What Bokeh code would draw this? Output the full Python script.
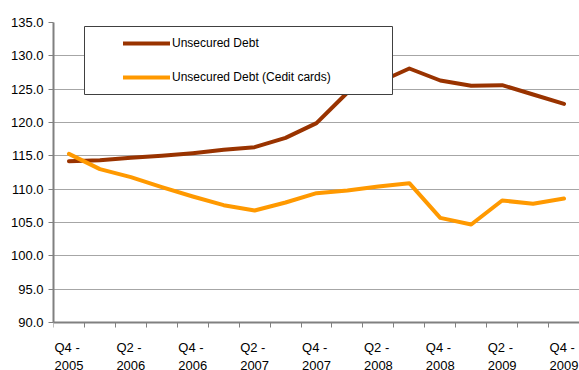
from bokeh.plotting import figure
from bokeh.models import (Legend, LegendItem, FixedTicker, PrintfTickFormatter, Range1d,
                          BoxAnnotation, LabelSet, ColumnDataSource)
from bokeh.core.properties import value
from bokeh.embed import file_html
from bokeh.resources import INLINE

quarters = ["Q4 - 2005", "Q1 - 2006", "Q2 - 2006", "Q3 - 2006", "Q4 - 2006",
            "Q1 - 2007", "Q2 - 2007", "Q3 - 2007", "Q4 - 2007", "Q1 - 2008",
            "Q2 - 2008", "Q3 - 2008", "Q4 - 2008", "Q1 - 2009", "Q2 - 2009",
            "Q3 - 2009", "Q4 - 2009"]
unsecured_debt = [114.2, 114.35, 114.7, 115.0, 115.4, 115.9, 116.3, 117.7, 119.9,
                  124.5, 126.0, 128.1, 126.3, 125.5, 125.6, 124.2, 122.8]
credit_cards = [115.3, 113.0, 111.8, 110.3, 108.9, 107.6, 106.8, 108.0, 109.4,
                109.8, 110.4, 110.9, 105.7, 104.7, 108.3, 107.8, 108.6]
y_ticks = [90, 95, 100, 105, 110, 115, 120, 125, 130, 135]
series_names = ["Unsecured Debt", "Unsecured Debt (Cedit cards)"]
series_colors = ["#993300", "#FF9900"]

FONT = "Liberation Sans"
n = len(quarters)
xs = [i + 0.5 for i in range(n)]

# layout: frame spans the full lower part so the quarter labels (drawn inside the frame,
# below the value 90) are not clipped; the plotted area 90..135 spans 300 px.
W, H, TOP = 579, 370, 22
PLOT_PX = 300.0
FB = H - TOP                      # frame height in px (bottom border 0)
px_per_unit = PLOT_PX / (y_ticks[-1] - y_ticks[0])
y_start = y_ticks[-1] - FB / px_per_unit

p = figure(width=W, height=H, output_backend="svg", toolbar_location=None,
           x_range=Range1d(0, n), y_range=Range1d(y_start, y_ticks[-1]),
           min_border_left=53, min_border_right=0, min_border_top=TOP, min_border_bottom=0)
p.outline_line_color = None
p.background_fill_color = "white"
p.border_fill_color = "white"

# grid
p.xgrid.grid_line_color = None
p.ygrid.ticker = FixedTicker(ticks=y_ticks)
p.ygrid.grid_line_color = "#a6a6a6"
p.ygrid.grid_line_width = 1

# y axis
p.yaxis.ticker = FixedTicker(ticks=y_ticks)
p.yaxis.bounds = (y_ticks[0], y_ticks[-1])
p.yaxis.formatter = PrintfTickFormatter(format="%.1f")
p.yaxis.axis_line_color = "#808080"
p.yaxis.axis_line_width = 2
p.yaxis.major_tick_line_color = "#808080"
p.yaxis.major_tick_out = 5
p.yaxis.major_tick_in = 0
p.yaxis.minor_tick_line_color = None
p.yaxis.major_label_text_font = FONT
p.yaxis.major_label_text_font_size = "13px"
p.yaxis.major_label_text_color = "black"
p.yaxis.major_label_standoff = 5

# x axis drawn at value 90, ticks at the category boundaries
p.xaxis.fixed_location = y_ticks[0]
p.xaxis.ticker = FixedTicker(ticks=[], minor_ticks=list(range(n + 1)))
p.xaxis.axis_line_color = "#808080"
p.xaxis.axis_line_width = 2
p.xaxis.major_tick_line_color = None
p.xaxis.major_tick_out = 0
p.xaxis.major_tick_in = 0
p.xaxis.major_label_standoff = 0
p.xaxis.minor_tick_line_color = "#808080"
p.xaxis.minor_tick_out = 5
p.xaxis.minor_tick_in = 0
p.xaxis.minor_tick_line_width = 1

# quarter labels, every second quarter
lab_idx = list(range(0, n, 2))
lab_src = ColumnDataSource(dict(x=[xs[i] for i in lab_idx],
                                y=[y_ticks[0]] * len(lab_idx),
                                text=[quarters[i].replace(" - ", " -\n") for i in lab_idx]))
labels = LabelSet(x="x", y="y", text="text", source=lab_src, y_offset=-17,
                  text_align="center", text_baseline="top",
                  text_font=value(FONT), text_font_size="13px", text_color="black",
                  text_line_height=1.2)
p.add_layout(labels)

# lines
r1 = p.line(xs, unsecured_debt, line_width=4, line_color=series_colors[0],
            line_join="round", line_cap="round")
r2 = p.line(xs, credit_cards, line_width=4, line_color=series_colors[1],
            line_join="round", line_cap="round")

# legend frame (screen units relative to frame bottom-left)
FBOT = TOP + FB
box = BoxAnnotation(left=31, right=339, bottom=FBOT - 94, top=FBOT - 26,
                    left_units="screen", right_units="screen",
                    bottom_units="screen", top_units="screen",
                    fill_color="white", fill_alpha=1.0,
                    line_color="#404040", line_width=1, line_alpha=1.0)
p.add_layout(box)

legend = Legend(items=[LegendItem(label=series_names[0], renderers=[r1]),
                       LegendItem(label=series_names[1], renderers=[r2])],
                location=(70, FBOT - 87), padding=0, margin=0, spacing=14,
                glyph_width=47, glyph_height=20, label_height=20,
                label_standoff=2, label_text_font=FONT, label_text_font_size="12px",
                label_text_color="black", border_line_color=None,
                background_fill_alpha=0)
p.add_layout(legend)

open("out.html", "w").write(file_html(p, INLINE))
